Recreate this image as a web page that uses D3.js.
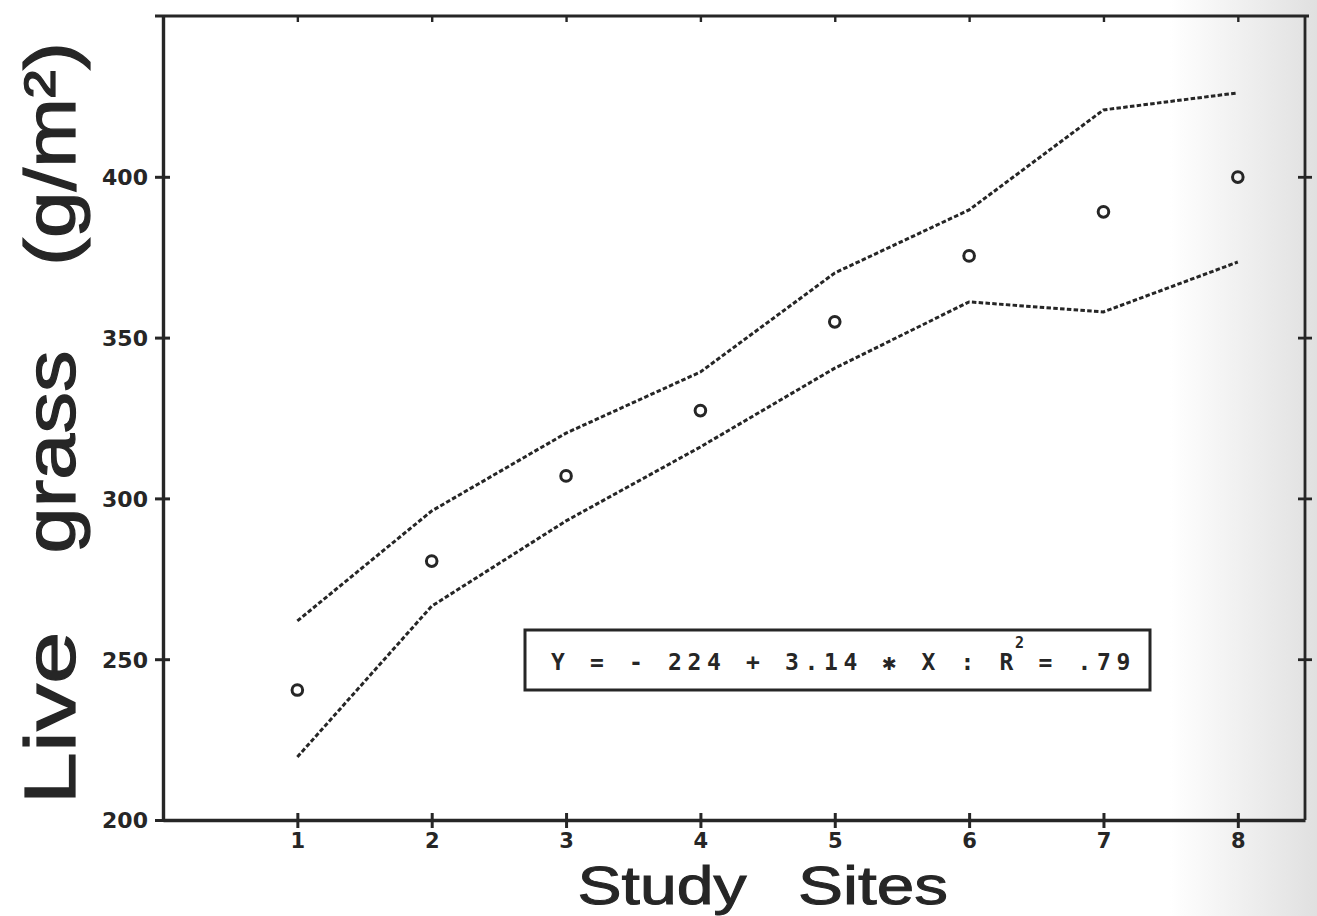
<!DOCTYPE html>
<html>
<head>
<meta charset="utf-8">
<script src="https://cdn.jsdelivr.net/npm/d3@7"></script>
<style>
  body { margin: 0; background: #fff; }
  svg { display: block; }
</style>
</head>
<body>
<div id="graph"></div>
<script>
// values
var sites = [1, 2, 3, 4, 5, 6, 7, 8];
var liveGrass = [240.4, 280.5, 307.0, 327.3, 354.9, 375.4, 389.1, 399.9];
var upperBand = [261.9, 296.1, 320.3, 339.3, 370.1, 389.7, 420.8, 426.1];
var lowerBand = [219.6, 266.5, 293.0, 316.0, 340.5, 361.1, 358.0, 373.5];
var yTicks = [200, 250, 300, 350, 400];
var yTitleWords = ["Live", "grass", "(g/m²)"];
var xTitleWords = ["Study", "Sites"];
var eqLeft = "Y = - 224 + 3.14 ✱ X : R";
var eqSup = "2";
var eqRight = "= .79";

var width = 1317, height = 916;
var margin = {top: 16, right: 12, bottom: 96, left: 163};
var ink = "#262626";

var svg = d3.select("#graph").append("svg")
  .attr("width", width)
  .attr("height", height);

// faint grey of the page edge on the right
var grad = svg.append("defs").append("linearGradient")
  .attr("id", "edge").attr("x1", 0).attr("x2", 1).attr("y1", 0).attr("y2", 0);
grad.append("stop").attr("offset", "0%").attr("stop-color", "#fff");
grad.append("stop").attr("offset", "100%").attr("stop-color", "#e0e0e0");
svg.append("rect").attr("width", width).attr("height", height).attr("fill", "#fff");
svg.append("rect").attr("x", 1170).attr("width", width - 1170).attr("height", height)
  .attr("fill", "url(#edge)");

var x = d3.scaleLinear().domain([0, 8.5]).range([margin.left, width - margin.right]);
var y = d3.scaleLinear().domain([200, 450]).range([height - margin.bottom, margin.top]);

var g = svg.append("g");

// frame
g.append("line")
  .attr("x1", x(0) - 8).attr("x2", x(8.5) + 4).attr("y1", y(450)).attr("y2", y(450))
  .attr("stroke", ink).attr("stroke-width", 3.2);
g.append("line")
  .attr("x1", x(8.5)).attr("x2", x(8.5)).attr("y1", y(450)).attr("y2", y(200))
  .attr("stroke", ink).attr("stroke-width", 2.8);

var tickFont = function(sel, size) {
  sel.attr("fill", ink)
    .style("font-family", "'DejaVu Sans', sans-serif")
    .style("font-weight", "bold")
    .style("font-size", size + "px");
};

// left axis, ticks cross the line
var yAxis = g.append("g")
  .attr("transform", "translate(" + x(0) + ",0)")
  .call(d3.axisLeft(y).tickValues(yTicks).tickSize(8).tickPadding(7).tickSizeOuter(0));
yAxis.select(".domain").attr("stroke", ink).attr("stroke-width", 3.4);
yAxis.selectAll(".tick line").attr("x1", 7).attr("stroke", ink).attr("stroke-width", 3);
yAxis.selectAll(".tick text").call(tickFont, 22).attr("dy", "0.36em");

// right side ticks
var yRight = g.append("g")
  .attr("transform", "translate(" + x(8.5) + ",0)")
  .call(d3.axisRight(y).tickValues(yTicks.slice(1)).tickSize(7).tickFormat("").tickSizeOuter(0));
yRight.select(".domain").remove();
yRight.selectAll(".tick line").attr("x1", -7).attr("stroke", ink).attr("stroke-width", 2.8);

// bottom axis
var xAxis = g.append("g")
  .attr("transform", "translate(0," + y(200) + ")")
  .call(d3.axisBottom(x).tickValues(sites).tickSize(8).tickPadding(5).tickSizeOuter(0));
xAxis.select(".domain").attr("stroke", ink).attr("stroke-width", 3.4);
xAxis.selectAll(".tick line").attr("y1", -7).attr("stroke", ink).attr("stroke-width", 3);
xAxis.selectAll(".tick text").call(tickFont, 21);

// small ticks hanging from the top line
var xTop = g.append("g")
  .attr("transform", "translate(0," + y(450) + ")")
  .call(d3.axisBottom(x).tickValues(sites).tickSize(6).tickFormat("").tickSizeOuter(0));
xTop.select(".domain").remove();
xTop.selectAll(".tick line").attr("stroke", ink).attr("stroke-width", 2.4);

// confidence band lines
var line = d3.line()
  .x(function(d, i) { return x(sites[i]); })
  .y(function(d) { return y(d); });

[upperBand, lowerBand].forEach(function(band) {
  g.append("path")
    .datum(band)
    .attr("d", line)
    .attr("fill", "none")
    .attr("stroke", ink)
    .attr("stroke-width", 3)
    .attr("stroke-dasharray", "4.5,2.3");
});

// observed means
g.selectAll(".pt")
  .data(liveGrass)
  .enter()
  .append("circle")
  .attr("class", "pt")
  .attr("cx", function(d, i) { return x(sites[i]); })
  .attr("cy", function(d) { return y(d); })
  .attr("r", 5.3)
  .attr("fill", "none")
  .attr("stroke", ink)
  .attr("stroke-width", 3);

// equation box, plotter text on a fixed character pitch
var box = g.append("g");
box.append("rect")
  .attr("x", 525).attr("y", 630).attr("width", 625).attr("height", 60)
  .attr("fill", "#fff").attr("stroke", ink).attr("stroke-width", 3);
var pitch = 19.5, eqX = 551;
function charX(str, start) {
  return str.split("").map(function(c, i) { return (eqX + (start + i) * pitch).toFixed(1); }).join(" ");
}
var eqStyle = function(sel, size) {
  sel.attr("fill", ink)
    .style("font-family", "'DejaVu Sans Mono', monospace")
    .style("font-weight", "bold")
    .style("font-size", size + "px");
};
box.append("text").attr("x", charX(eqLeft, 0)).attr("y", 670).call(eqStyle, 23).text(eqLeft);
box.append("text").attr("x", eqX + 23.8 * pitch).attr("y", 648).call(eqStyle, 15).text(eqSup);
box.append("text").attr("x", charX(eqRight, 25)).attr("y", 670).call(eqStyle, 23).text(eqRight);

// axis titles, one text per word to keep the wide word gaps
var yTitlePos = [{c: 718, len: 173}, {c: 452, len: 203}, {c: 154, len: 224}];
yTitleWords.forEach(function(w, i) {
  svg.append("text")
    .attr("transform", "translate(75," + yTitlePos[i].c + ") rotate(-90)")
    .attr("text-anchor", "middle")
    .attr("textLength", yTitlePos[i].len)
    .attr("lengthAdjust", "spacingAndGlyphs")
    .attr("fill", ink)
    .attr("stroke", ink)
    .attr("stroke-width", 1.2)
    .style("font-family", "'Liberation Sans', Arial, sans-serif")
    .style("font-size", "73px")
    .text(w);
});

var xTitlePos = [{c: 662, len: 169}, {c: 873, len: 150}];
xTitleWords.forEach(function(w, i) {
  svg.append("text")
    .attr("x", xTitlePos[i].c)
    .attr("y", 904)
    .attr("text-anchor", "middle")
    .attr("textLength", xTitlePos[i].len)
    .attr("lengthAdjust", "spacingAndGlyphs")
    .attr("fill", ink)
    .attr("stroke", ink)
    .attr("stroke-width", 1)
    .style("font-family", "'Liberation Sans', Arial, sans-serif")
    .style("font-size", "54px")
    .text(w);
});
</script>
</body>
</html>
